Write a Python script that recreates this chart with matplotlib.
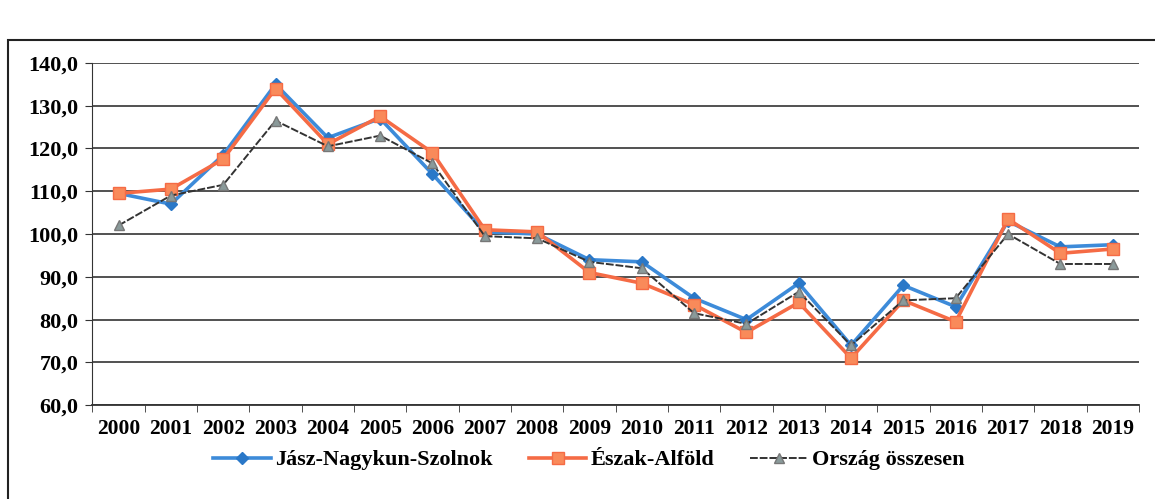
import numpy as np
import matplotlib.pyplot as plt
from matplotlib.patches import Rectangle

years = [str(y) for y in range(2000, 2020)]
jnsz = [109.5, 107.0, 118.5, 135.0, 122.5, 127.0, 114.0, 100.5, 100.0, 94.0,
        93.5, 85.0, 80.0, 88.5, 74.0, 88.0, 83.0, 103.0, 97.0, 97.5]
eszak_alfold = [109.5, 110.5, 117.5, 134.0, 121.0, 127.5, 119.0, 101.0, 100.5, 91.0,
                88.5, 83.5, 77.0, 84.0, 71.0, 84.5, 79.5, 103.5, 95.5, 96.5]
orszag = [102.0, 109.0, 111.5, 126.5, 120.5, 123.0, 116.5, 99.5, 99.0, 93.5,
          92.0, 81.5, 79.0, 86.5, 74.0, 84.5, 85.0, 100.0, 93.0, 93.0]

plt.rcParams['font.family'] = ['Liberation Serif', 'DejaVu Serif']
plt.rcParams['font.weight'] = 'bold'

fig = plt.figure(figsize=(11.55, 4.99), dpi=100)
ax = fig.add_axes([0.080, 0.188, 0.906, 0.686])

# outer chart frame
fig.patches.append(Rectangle((8 / 1155, -0.1), 1.2, 1 - 40 / 499 + 0.1,
                             transform=fig.transFigure, fill=False,
                             edgecolor='#222222', linewidth=1.5))

x = np.arange(len(years))
ax.plot(x, jnsz, color='#3d8bd9', lw=2.6, marker='D', ms=6,
        mec='#2a78c8', mfc='#2a78c8', label='Jász-Nagykun-Szolnok', zorder=3)
ax.plot(x, eszak_alfold, color='#f56b45', lw=2.6, marker='s', ms=8,
        mec='#f56b45', mfc='#f98a5a', label='Észak-Alföld', zorder=4)
ax.plot(x, orszag, color='#333333', lw=1.4, ls=(0, (4, 1)), marker='^', ms=7,
        mec='#777777', mfc='#8a9a9a', label='Ország összesen', zorder=5)

ax.set_xlim(-0.5, len(years) - 0.5)
ax.set_ylim(60, 140)
ax.set_yticks(np.arange(60, 141, 10))
ax.set_yticklabels([f"{v:.1f}".replace('.', ',') for v in np.arange(60, 141, 10)],
                   fontsize=16, fontweight='bold')
ax.set_xticks(x)
ax.set_xticklabels(years, fontsize=15.5, fontweight='bold')
ax.set_xticks(np.arange(-0.5, len(years), 1), minor=True)
ax.tick_params(axis='x', which='major', length=0, pad=10)
ax.tick_params(axis='x', which='minor', length=5, color='#333333')
ax.tick_params(axis='y', length=5, color='#333333', pad=5)
ax.grid(axis='y', color='#333333', lw=1.2)
ax.set_axisbelow(True)
for s in ['top', 'right']:
    ax.spines[s].set_visible(False)
ax.spines['left'].set_color('#333333')
ax.spines['bottom'].set_color('#333333')
ax.spines['bottom'].set_linewidth(1.3)

fig.legend(loc='center', bbox_to_anchor=(0.51, 0.078), ncol=3, frameon=False,
           prop={'size': 16, 'weight': 'bold'}, handlelength=2.6,
           columnspacing=1.6, handletextpad=0.2)

fig.savefig('out.png', dpi=100, facecolor='white')
